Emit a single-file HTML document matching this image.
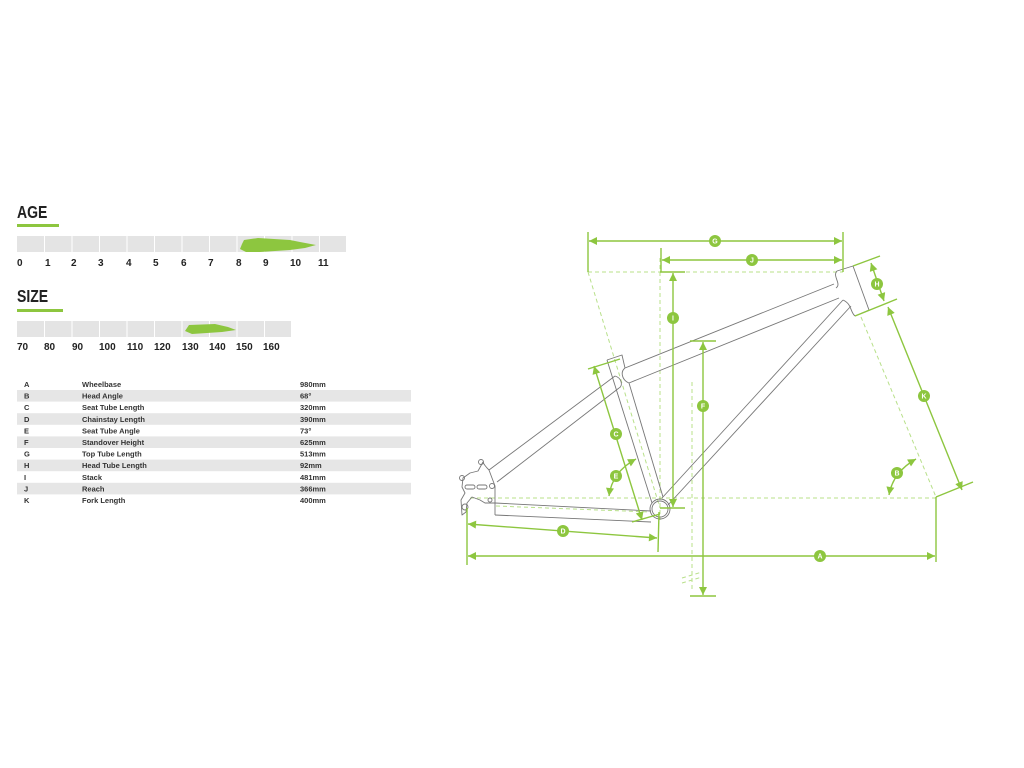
<!DOCTYPE html>
<html><head><meta charset="utf-8"><style>
html,body{margin:0;padding:0;background:#fff;width:1024px;height:768px;overflow:hidden}
svg{display:block}
text{font-family:"Liberation Sans",sans-serif}
</style></head><body>
<svg width="1024" height="768" viewBox="0 0 1024 768" xmlns="http://www.w3.org/2000/svg">
<defs>
<marker id="ah" viewBox="0 0 10 10" refX="10" refY="5" markerWidth="9" markerHeight="8" orient="auto-start-reverse" markerUnits="userSpaceOnUse"><path d="M0,0L10,5L0,10z" fill="#8dc63f"/></marker>
</defs>
<text x="17" y="218" font-size="18" font-weight="bold" fill="#222" transform="translate(17,0) scale(0.78,1) translate(-17,0)">AGE</text>
<rect x="17" y="224" width="42" height="3" fill="#8dc63f"/>
<rect x="17" y="236" width="329" height="16" fill="#e4e4e4"/>
<g stroke="#fff" stroke-width="1">
<line x1="44.5" y1="236" x2="44.5" y2="252"/><line x1="72" y1="236" x2="72" y2="252"/><line x1="99.5" y1="236" x2="99.5" y2="252"/><line x1="127" y1="236" x2="127" y2="252"/><line x1="154.5" y1="236" x2="154.5" y2="252"/><line x1="182" y1="236" x2="182" y2="252"/><line x1="209.5" y1="236" x2="209.5" y2="252"/><line x1="237" y1="236" x2="237" y2="252"/><line x1="264.5" y1="236" x2="264.5" y2="252"/><line x1="292" y1="236" x2="292" y2="252"/><line x1="319.5" y1="236" x2="319.5" y2="252"/>
</g>
<path d="M244,240 L258,238 L290,240 L300,242 L316,245 L305,248 L290,250 L260,252 L246,252 L240,249 L242,244 Z" fill="#8dc63f"/>
<g font-size="10" font-weight="bold" fill="#222">
<text x="17" y="266">0</text><text x="45" y="266">1</text><text x="71" y="266">2</text><text x="98" y="266">3</text><text x="126" y="266">4</text><text x="153" y="266">5</text><text x="181" y="266">6</text><text x="208" y="266">7</text><text x="236" y="266">8</text><text x="263" y="266">9</text><text x="290" y="266">10</text><text x="318" y="266">11</text>
</g>
<text x="17" y="302" font-size="18" font-weight="bold" fill="#222" transform="translate(17,0) scale(0.78,1) translate(-17,0)">SIZE</text>
<rect x="17" y="309" width="46" height="3" fill="#8dc63f"/>
<rect x="17" y="321" width="274" height="16" fill="#e4e4e4"/>
<g stroke="#fff" stroke-width="1">
<line x1="44.5" y1="321" x2="44.5" y2="337"/><line x1="72" y1="321" x2="72" y2="337"/><line x1="99.5" y1="321" x2="99.5" y2="337"/><line x1="127" y1="321" x2="127" y2="337"/><line x1="154.5" y1="321" x2="154.5" y2="337"/><line x1="182" y1="321" x2="182" y2="337"/><line x1="209.5" y1="321" x2="209.5" y2="337"/><line x1="237" y1="321" x2="237" y2="337"/><line x1="264.5" y1="321" x2="264.5" y2="337"/>
</g>
<path d="M189,325 L215,324 L228,327 L236,330 L222,332 L192,334 L185,331 Z" fill="#8dc63f"/>
<g font-size="10" font-weight="bold" fill="#222">
<text x="17" y="350">70</text><text x="44" y="350">80</text><text x="72" y="350">90</text><text x="99" y="350">100</text><text x="127" y="350">110</text><text x="154" y="350">120</text><text x="182" y="350">130</text><text x="209" y="350">140</text><text x="236" y="350">150</text><text x="263" y="350">160</text>
</g>
<g fill="#e6e6e6">
<rect x="17" y="390" width="394" height="11.6"/><rect x="17" y="413.2" width="394" height="11.6"/><rect x="17" y="436.4" width="394" height="11.6"/><rect x="17" y="459.6" width="394" height="11.6"/><rect x="17" y="482.8" width="394" height="11.6"/>
</g>
<g font-size="7.5" font-weight="bold" fill="#333">
<text x="24" y="387">A</text><text x="82" y="387">Wheelbase</text><text x="300" y="387">980mm</text>
<text x="24" y="398.6">B</text><text x="82" y="398.6">Head Angle</text><text x="300" y="398.6">68°</text>
<text x="24" y="410.2">C</text><text x="82" y="410.2">Seat Tube Length</text><text x="300" y="410.2">320mm</text>
<text x="24" y="421.8">D</text><text x="82" y="421.8">Chainstay Length</text><text x="300" y="421.8">390mm</text>
<text x="24" y="433.4">E</text><text x="82" y="433.4">Seat Tube Angle</text><text x="300" y="433.4">73°</text>
<text x="24" y="445">F</text><text x="82" y="445">Standover Height</text><text x="300" y="445">625mm</text>
<text x="24" y="456.6">G</text><text x="82" y="456.6">Top Tube Length</text><text x="300" y="456.6">513mm</text>
<text x="24" y="468.2">H</text><text x="82" y="468.2">Head Tube Length</text><text x="300" y="468.2">92mm</text>
<text x="24" y="479.8">I</text><text x="82" y="479.8">Stack</text><text x="300" y="479.8">481mm</text>
<text x="24" y="491.4">J</text><text x="82" y="491.4">Reach</text><text x="300" y="491.4">366mm</text>
<text x="24" y="503">K</text><text x="82" y="503">Fork Length</text><text x="300" y="503">400mm</text>
</g>
<g stroke="#b8e08a" stroke-width="1" stroke-dasharray="4,3" fill="none">
<line x1="588" y1="272" x2="843" y2="272"/>
<line x1="588" y1="272" x2="660" y2="508"/>
<line x1="660" y1="258" x2="660" y2="520"/>
<line x1="692" y1="382" x2="692" y2="592"/>
<line x1="470" y1="498" x2="936" y2="498"/>
<line x1="861" y1="317" x2="936" y2="497"/>
<line x1="496" y1="506" x2="650" y2="512"/>
<line x1="682" y1="578" x2="702" y2="572"/><line x1="682" y1="583" x2="702" y2="577"/>
</g>
<g stroke="#777" stroke-width="0.9" fill="none" stroke-linejoin="round">
<path d="M837,271 L853,266 L869,310 L855,316"/>
<path d="M837,271 C832,276 842,284 836,288"/>
<path d="M843,300 C852,304 850,312 855,316"/>
<line x1="625" y1="368" x2="834" y2="284"/>
<line x1="629" y1="383" x2="839" y2="298"/>
<path d="M625,368 C620,372 622,380 629,383"/>
<line x1="843" y1="300" x2="662" y2="498"/>
<line x1="851" y1="306" x2="668" y2="505"/>
<path d="M607,360 L622,355 L625,368"/>
<line x1="607" y1="360" x2="652" y2="503"/>
<line x1="629" y1="383" x2="663" y2="497"/>
<path d="M615,376 L489,470"/>
<path d="M619,388 L497,482"/>
<path d="M615,376 C622,378 623,386 619,388"/>
<line x1="495" y1="503" x2="651" y2="511"/>
<line x1="495" y1="515" x2="651" y2="522"/>
<line x1="495" y1="503" x2="495" y2="515"/>
<circle cx="660" cy="509" r="10"/>
<circle cx="660" cy="509" r="8"/>
<path d="M489,470 C486,467 484,465 483,462 L478,471 L470,473 L463,478 L462,487 L465,493 L461,500 L462,515 L466,512 L467,503 L472,497 L480,500 L485,503 L495,503 L495,486 L489,470"/>
<circle cx="481" cy="462" r="2.5"/><circle cx="462" cy="478" r="2.5"/><circle cx="492" cy="486" r="2.5"/><circle cx="490" cy="500" r="2"/>
<rect x="465" y="485" width="10" height="4" rx="2"/><rect x="477" y="485" width="10" height="4" rx="2"/>
<circle cx="465" cy="507" r="3"/>
</g>
<g stroke="#8dc63f" stroke-width="1.4" fill="none">
<line x1="588" y1="232" x2="588" y2="272"/>
<line x1="843" y1="232" x2="843" y2="272"/>
<line x1="661" y1="248" x2="661" y2="272"/>
<line x1="589" y1="241" x2="842" y2="241" marker-start="url(#ah)" marker-end="url(#ah)"/>
<line x1="662" y1="260" x2="842" y2="260" marker-start="url(#ah)" marker-end="url(#ah)"/>
<line x1="660" y1="272" x2="685" y2="272"/>
<line x1="673" y1="273" x2="673" y2="507" marker-start="url(#ah)" marker-end="url(#ah)"/>
<line x1="660" y1="508" x2="685" y2="508"/>
<line x1="690" y1="341" x2="716" y2="341"/>
<line x1="703" y1="342" x2="703" y2="595" marker-start="url(#ah)" marker-end="url(#ah)"/>
<line x1="690" y1="596" x2="716" y2="596"/>
<line x1="588" y1="369" x2="620" y2="359"/>
<line x1="594" y1="366" x2="642" y2="520" marker-start="url(#ah)" marker-end="url(#ah)"/>
<line x1="632" y1="522" x2="660" y2="514"/>
<path d="M609,496 Q612,472 636,459" marker-start="url(#ah)" marker-end="url(#ah)"/>
<line x1="467" y1="508" x2="467" y2="565"/>
<line x1="468" y1="524" x2="657" y2="538" marker-start="url(#ah)" marker-end="url(#ah)"/>
<line x1="659" y1="512" x2="658" y2="552"/>
<line x1="468" y1="556" x2="935" y2="556" marker-start="url(#ah)" marker-end="url(#ah)"/>
<line x1="936" y1="497" x2="936" y2="562"/>
<line x1="936" y1="497" x2="973" y2="482"/>
<line x1="853" y1="266" x2="880" y2="256"/>
<line x1="855" y1="316" x2="897" y2="299"/>
<line x1="871" y1="263" x2="884" y2="301" marker-start="url(#ah)" marker-end="url(#ah)"/>
<line x1="888" y1="307" x2="962" y2="490" marker-start="url(#ah)" marker-end="url(#ah)"/>
<path d="M889,495 Q893,472 916,459" marker-start="url(#ah)" marker-end="url(#ah)"/>
</g>
<g fill="#8dc63f">
<circle cx="715" cy="241" r="6"/><circle cx="752" cy="260" r="6"/><circle cx="673" cy="318" r="6"/>
<circle cx="703" cy="406" r="6"/><circle cx="616" cy="434" r="6"/><circle cx="616" cy="476" r="6"/>
<circle cx="563" cy="531" r="6"/><circle cx="820" cy="556" r="6"/><circle cx="877" cy="284" r="6"/>
<circle cx="924" cy="396" r="6"/><circle cx="897" cy="473" r="6"/>
</g>
<g fill="#fff" font-size="7" font-weight="bold" text-anchor="middle">
<text x="715" y="243.5">G</text><text x="752" y="262.5">J</text><text x="673" y="320.5">I</text>
<text x="703" y="408.5">F</text><text x="616" y="436.5">C</text><text x="616" y="478.5">E</text>
<text x="563" y="533.5">D</text><text x="820" y="558.5">A</text><text x="877" y="286.5">H</text>
<text x="924" y="398.5">K</text><text x="897" y="475.5">B</text>
</g>
</svg>
</body></html>
